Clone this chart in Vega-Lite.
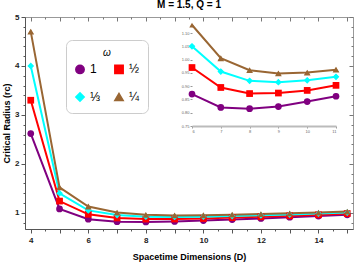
{
  "$schema": "https://vega.github.io/schema/vega-lite/v6.json",
  "width": 328,
  "height": 212,
  "autosize": "none",
  "padding": {"left": 25, "top": 17, "right": 4, "bottom": 33},
  "title": {"text": "M = 1.5, Q = 1", "fontSize": 10, "font": "Liberation Sans", "fontWeight": "bold", "anchor": "middle", "offset": 3},
  "config": {"view": {"stroke": "#999"}, "font": "Liberation Sans"},
  "data": {"values": [
    {"D": 4, "w": "1", "r": 2.62}, {"D": 4, "w": "½", "r": 3.30}, {"D": 4, "w": "⅓", "r": 4.00}, {"D": 4, "w": "¼", "r": 4.70},
    {"D": 5, "w": "1", "r": 1.08}, {"D": 5, "w": "½", "r": 1.24}, {"D": 5, "w": "⅓", "r": 1.40}, {"D": 5, "w": "¼", "r": 1.52},
    {"D": 6, "w": "1", "r": 0.87}, {"D": 6, "w": "½", "r": 0.97}, {"D": 6, "w": "⅓", "r": 1.05}, {"D": 6, "w": "¼", "r": 1.13},
    {"D": 7, "w": "1", "r": 0.82}, {"D": 7, "w": "½", "r": 0.895}, {"D": 7, "w": "⅓", "r": 0.955}, {"D": 7, "w": "¼", "r": 1.005},
    {"D": 8, "w": "1", "r": 0.815}, {"D": 8, "w": "½", "r": 0.872}, {"D": 8, "w": "⅓", "r": 0.92}, {"D": 8, "w": "¼", "r": 0.96},
    {"D": 9, "w": "1", "r": 0.823}, {"D": 9, "w": "½", "r": 0.874}, {"D": 9, "w": "⅓", "r": 0.915}, {"D": 9, "w": "¼", "r": 0.948},
    {"D": 10, "w": "1", "r": 0.842}, {"D": 10, "w": "½", "r": 0.884}, {"D": 10, "w": "⅓", "r": 0.922}, {"D": 10, "w": "¼", "r": 0.951},
    {"D": 11, "w": "1", "r": 0.862}, {"D": 11, "w": "½", "r": 0.903}, {"D": 11, "w": "⅓", "r": 0.935}, {"D": 11, "w": "¼", "r": 0.962},
    {"D": 12, "w": "1", "r": 0.885}, {"D": 12, "w": "½", "r": 0.92}, {"D": 12, "w": "⅓", "r": 0.95}, {"D": 12, "w": "¼", "r": 0.975},
    {"D": 13, "w": "1", "r": 0.91}, {"D": 13, "w": "½", "r": 0.94}, {"D": 13, "w": "⅓", "r": 0.965}, {"D": 13, "w": "¼", "r": 0.99},
    {"D": 14, "w": "1", "r": 0.935}, {"D": 14, "w": "½", "r": 0.96}, {"D": 14, "w": "⅓", "r": 0.985}, {"D": 14, "w": "¼", "r": 1.005},
    {"D": 15, "w": "1", "r": 0.96}, {"D": 15, "w": "½", "r": 0.985}, {"D": 15, "w": "⅓", "r": 1.005}, {"D": 15, "w": "¼", "r": 1.025}
  ]},
  "layer": [
    {
      "encoding": {
        "color": {"field": "w", "type": "nominal", "scale": {"domain": ["1", "½", "⅓", "¼"], "range": ["#800080", "#ff0000", "#00ffff", "#996633"]},
          "legend": {"orient": "none", "legendX": 41, "legendY": 23, "columns": 2, "direction": "horizontal", "title": "ω", "titleFontStyle": "italic", "titleFontWeight": "normal",
            "titleFontSize": 10, "titleAnchor": "middle", "labelFontSize": 12, "symbolSize": 70, "rowPadding": 12, "columnPadding": 10, "padding": 8,
            "strokeColor": "#ccc", "cornerRadius": 6, "fillColor": "white", "symbolOpacity": 1}},
        "shape": {"field": "w", "type": "nominal", "scale": {"domain": ["1", "½", "⅓", "¼"], "range": ["circle", "square", "diamond", "triangle-up"]}}
      },
      "layer": [
        {
          "mark": {"type": "line", "strokeWidth": 2},
          "encoding": {
            "x": {"field": "D", "type": "quantitative", "scale": {"domain": [3.8, 15.2], "nice": false, "zero": false},
              "axis": {"values": [4, 4.5, 5, 5.5, 6, 6.5, 7, 7.5, 8, 8.5, 9, 9.5, 10, 10.5, 11, 11.5, 12, 12.5, 13, 13.5, 14, 14.5, 15],
                "format": "~g", "labelExpr": "datum.value % 2 == 0 ? datum.label : ''", "grid": false, "title": "Spacetime Dimensions (D)",
                "titleFontSize": 9, "titleFontWeight": "bold", "titlePadding": 8, "labelFontSize": 8, "labelFontWeight": "bold", "labelColor": "#222",
                "domainColor": "#555", "tickColor": "#555", "tickSize": {"condition": {"test": "datum.value % 1 == 0", "value": 4}, "value": 2},
                "labelPadding": 3, "labelFlush": false}},
            "y": {"field": "r", "type": "quantitative", "scale": {"domain": [0.67, 5], "nice": false, "zero": false},
              "axis": {"values": [0.8, 1, 1.2, 1.4, 1.6, 1.8, 2, 2.2, 2.4, 2.6, 2.8, 3, 3.2, 3.4, 3.6, 3.8, 4, 4.2, 4.4, 4.6, 4.8, 5],
                "format": "~g", "labelExpr": "datum.value % 1 == 0 ? datum.label : ''", "grid": false, "title": "Critical Radius (rc)",
                "titleFontSize": 9, "titleFontWeight": "bold", "titlePadding": 3, "labelFontSize": 8, "labelFontWeight": "bold", "labelColor": "#222",
                "domainColor": "#555", "tickColor": "#555", "tickSize": {"condition": {"test": "datum.value % 1 == 0", "value": 4}, "value": 2},
                "labelPadding": 2, "labelFlush": false}}
          }
        },
        {
          "mark": {"type": "point", "filled": true, "size": 45, "opacity": 1},
          "encoding": {
            "x": {"field": "D", "type": "quantitative",
              "axis": {"orient": "top", "values": [4, 4.5, 5, 5.5, 6, 6.5, 7, 7.5, 8, 8.5, 9, 9.5, 10, 10.5, 11, 11.5, 12, 12.5, 13, 13.5, 14, 14.5, 15],
                "labels": false, "title": null, "grid": false, "domain": false, "tickColor": "#777",
                "tickSize": {"condition": {"test": "datum.value % 1 == 0", "value": -4}, "value": -2}}},
            "y": {"field": "r", "type": "quantitative",
              "axis": {"orient": "right", "values": [0.8, 1, 1.2, 1.4, 1.6, 1.8, 2, 2.2, 2.4, 2.6, 2.8, 3, 3.2, 3.4, 3.6, 3.8, 4, 4.2, 4.4, 4.6, 4.8, 5],
                "labels": false, "title": null, "grid": false, "domain": false, "tickColor": "#777",
                "tickSize": {"condition": {"test": "datum.value % 1 == 0", "value": -4}, "value": -2}}}
          }
        }
      ],
      "resolve": {"axis": {"x": "independent", "y": "independent"}}
    },
    {
      "transform": [{"filter": "datum.D >= 6 && datum.D <= 11"}],
      "encoding": {
        "x": {"field": "D", "type": "quantitative", "scale": {"domain": [6, 11], "range": [167, 311], "nice": false, "zero": false},
          "axis": {"orient": "bottom", "offset": -103, "values": [6, 7, 8, 9, 10, 11], "grid": false, "title": null, "labelFontSize": 4,
            "labelColor": "#666", "domainColor": "#bbb", "domainWidth": 2, "tickColor": "#999", "tickSize": 2, "labelPadding": 1}},
        "y": {"field": "r", "type": "quantitative", "scale": {"domain": [0.75, 1.10], "range": [109, 16], "nice": false, "zero": false},
          "axis": {"orient": "left", "offset": -167, "values": [0.75, 0.8, 0.85, 0.9, 0.95, 1.0, 1.05, 1.1], "format": ".2f", "grid": false, "title": null,
            "labelFontSize": 4, "labelColor": "#666", "domain": false, "tickColor": "#999", "tickSize": 2, "labelPadding": 1}},
        "color": {"field": "w", "type": "nominal"},
        "shape": {"field": "w", "type": "nominal"}
      },
      "layer": [
        {"mark": {"type": "line", "strokeWidth": 2}},
        {"transform": [{"filter": "datum.r <= 1.1"}], "mark": {"type": "point", "filled": true, "size": 45, "opacity": 1}}
      ]
    }
  ],
  "resolve": {"scale": {"x": "independent", "y": "independent"}}
}
